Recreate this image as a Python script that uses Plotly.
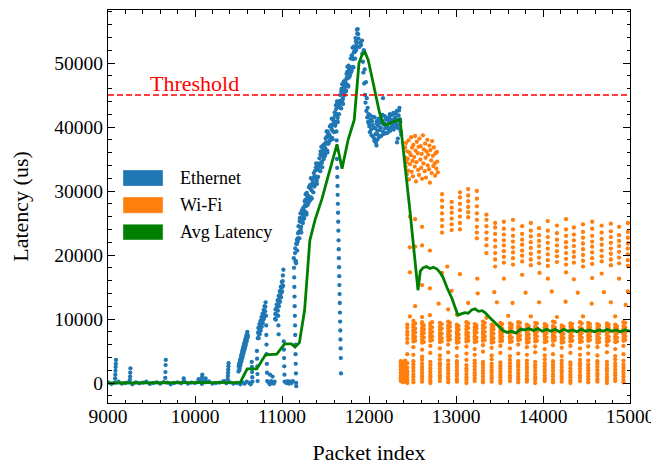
import plotly.graph_objects as go

# ---------------- data ----------------
threshold = 45000
x_range = [9000, 15000]
y_range = [-3125, 58285]

# Ethernet: baseline packets (9000-10500)
eth_base_x = [9000, 9040, 9080, 9120, 9160, 9200, 9240, 9280, 9320, 9360, 9400, 9440, 9480, 9520, 9560, 9600, 9640, 9680, 9720,
              9760, 9800, 9840, 9880, 9920, 9960, 10000, 10040, 10080, 10120, 10160, 10200, 10240, 10280, 10320, 10360, 10400, 10440, 10480]
eth_base_y = [100, -150, 50, 200, -100, 0, 150, -200, 100, -50, 50, 200, -150, 0, 100, -100, 150, 50, -200,
              0, 100, -50, 200, -100, 50, 0, 150, -150, 100, 250, -100, 0, 50, 200, -50, 100, -100, 0]

# Ethernet: short spikes
eth_spike_x = [9082, 9084, 9086, 9088, 9090, 9092, 9252, 9254, 9256, 9258, 9658, 9660, 9662, 9664, 9868, 9870,
               10040, 10042, 10080, 10082, 10084, 10120, 10122, 10335, 10376, 10378, 10380, 10382, 10384, 10386]
eth_spike_y = [700, 1300, 1900, 2500, 3000, 3600, 500, 1000, 1600, 2300, 800, 1700, 2800, 3600, 200, 700,
               300, 600, 400, 900, 1300, 200, 700, 300, 600, 1100, 1600, 2100, 2600, 3100]

# Ethernet: saw-tooth growth (10500-11170)
eth_saw_x = [10500, 10506, 10512, 10518, 10524, 10530, 10536, 10542, 10548, 10554, 10560, 10566, 10572, 10578, 10584, 10590, 10596, 10602, 10608,
             10520, 10545, 10570, 10595, 10625, 10640, 10652, 10654, 10656, 10658, 10660,
             10712, 10714, 10716, 10718, 10720,
             10722, 10728, 10734, 10740, 10746, 10752, 10758, 10764, 10770, 10776, 10782, 10788, 10794, 10800, 10806, 10812,
             10816, 10818, 10820, 10822, 10824, 10826, 10828, 10830,
             10845, 10860, 10875, 10890, 10905, 10915, 10862, 10892,
             10920, 10926, 10932, 10938, 10944, 10950, 10956, 10962, 10968, 10974, 10980, 10986, 10992, 10998, 11004, 11010, 11016,
             10955, 10957, 10959, 10961, 11020, 11022, 11024, 11026, 11028, 11030,
             11050, 11065, 11080, 11095, 11110, 11125,
             11136, 11138, 11140, 11142, 11144, 11146, 11148, 11150, 11152, 11154, 11156, 11158, 11160, 11162, 11164]
eth_saw_y = [1800, 3000, 2300, 3600, 3000, 4300, 3700, 5000, 4300, 5600, 4900, 6200, 5500, 6800, 6100, 7400, 6800, 8000, 7400,
             -200, 100, -100, 200, 0, -200, 3300, 2500, 1700, 900, 200,
             5000, 3800, 2600, 1400, 300,
             7000, 8600, 7600, 9200, 8100, 9700, 8700, 10300, 9300, 10800, 9900, 11400, 10500, 12000, 11200, 12600,
             10500, 9000, 7500, 6000, 4500, 3000, 1600, 300,
             100, -200, 300, 0, -100, 200, 1300, 1000,
             10000, 11500, 10700, 12200, 11400, 12900, 12000, 13600, 12700, 14300, 13400, 15000, 14100, 15800, 15000, 16800, 17700,
             12000, 10500, 9000, 7600, 6500, 5200, 3900, 2600, 1300, 200,
             0, 300, -100, 200, 0, 300,
             19500, 18000, 16500, 15000, 13500, 12000, 10500, 9000, 7500, 6000, 4500, 3000, 1500, 0, -500]
eth_saw2_x = [10503, 10509, 10515, 10521, 10527, 10533, 10539, 10545, 10551, 10557, 10563, 10569, 10575, 10581, 10587, 10593, 10599, 10605,
              10725, 10731, 10737, 10743, 10749, 10755, 10761, 10767, 10773, 10779, 10785, 10791, 10797, 10803, 10809,
              10923, 10929, 10935, 10941, 10947, 10953, 10959, 10965, 10971, 10977, 10983, 10989, 10995, 11001, 11007, 11013]
eth_saw2_y = [2600, 2000, 3300, 2700, 3900, 3400, 4600, 4000, 5300, 4600, 5900, 5200, 6500, 5800, 7100, 6500, 7700, 7100,
              7900, 7000, 8500, 7600, 9000, 8200, 9600, 8800, 10100, 9400, 10700, 10000, 11300, 10600, 11900,
              10800, 9900, 11600, 10600, 12300, 11300, 13000, 12000, 13700, 12700, 14400, 13400, 15100, 14300, 15900, 15200]

# Ethernet: main ramp (11150-11870)
eth_ramp_x = [11150, 11160, 11170, 11180, 11190, 11200, 11210, 11220, 11230, 11240, 11250, 11260, 11270, 11280, 11290, 11300,
              11310, 11320, 11330, 11340, 11350, 11360, 11370, 11380, 11390, 11400, 11410, 11420, 11430, 11440, 11450, 11460,
              11470, 11480, 11490, 11500, 11510, 11520, 11530, 11540, 11550, 11560, 11570, 11580, 11590, 11600, 11610, 11620,
              11630, 11640, 11650, 11660, 11670, 11680, 11690, 11700, 11710, 11720, 11730, 11740, 11750, 11760, 11770, 11780,
              11790, 11800, 11810, 11820, 11830, 11840, 11850, 11860, 11870]
eth_ramp_y = [20300, 19050, 21700, 22100, 24500, 22600, 25200, 24400, 27000, 25000,
              26900, 26800, 28600, 26600, 29100, 28100, 30600, 28500, 30300, 30100,
              31900, 29800, 32200, 31200, 33700, 31700, 33500, 33300, 35100, 33100,
              35600, 34600, 37100, 35000, 36800, 36600, 38400, 36300, 38700, 37700,
              40100, 38000, 39700, 39400, 41300, 39200, 41800, 40800, 43400, 41400,
              43200, 43100, 45000, 42900, 45500, 44500, 47100, 45000, 46900, 46700,
              48600, 46500, 49100, 48100, 50700, 48800, 50700, 50600, 52600, 50700,
              53400, 53100, 55300]
eth_ramp2_x = [11155, 11165, 11175, 11185, 11195, 11205, 11215, 11225, 11235, 11245, 11255, 11265, 11275, 11285, 11295, 11305,
               11315, 11325, 11335, 11345, 11355, 11365, 11375, 11385, 11395, 11405, 11415, 11425, 11435, 11445, 11455, 11465,
               11475, 11485, 11495, 11505, 11515, 11525, 11535, 11545, 11555, 11565, 11575, 11585, 11595, 11605, 11615, 11625,
               11635, 11645, 11655, 11665, 11675, 11685, 11695, 11705, 11715, 11725, 11735, 11745, 11755, 11765, 11775, 11785,
               11795, 11805, 11815, 11825, 11835, 11845, 11855, 11865]
eth_ramp2_y = [19000, 21800, 20700, 23400, 23600, 25800, 24000, 25600, 25400, 27400, 25700, 27800, 27600, 29700, 27800, 29200,
               28900, 30800, 29000, 31100, 30900, 32800, 30900, 32300, 32000, 34000, 32200, 34300, 34100, 36200, 34300, 35700,
               35400, 37300, 35500, 37600, 37400, 39300, 37400, 38800, 38400, 40200, 38300, 40400, 40300, 42300, 40500, 41900,
               41700, 43700, 42000, 44100, 44000, 46000, 44200, 45600, 45400, 47300, 45600, 47700, 47600, 49600, 47800, 49300,
               49100, 51100, 49400, 51700, 51700, 53900, 52500, 54600]
eth_ramp3_x = [11152, 11162, 11172, 11182, 11192, 11202, 11212, 11222, 11232, 11242, 11252, 11262, 11272, 11282, 11292, 11302,
               11312, 11322, 11332, 11342, 11352, 11362, 11372, 11382, 11392, 11402, 11412, 11422, 11432, 11442, 11452, 11462,
               11472, 11482, 11492, 11502, 11512, 11522, 11532, 11542, 11552, 11562, 11572, 11582, 11592, 11602, 11612, 11622,
               11632, 11642, 11652, 11662, 11672, 11682, 11692, 11702, 11712, 11722, 11732, 11742, 11752, 11762, 11772, 11782,
               11792, 11802, 11812, 11822, 11832, 11842, 11852, 11862]
eth_ramp3_y = [21050, 18700, 22400, 22600, 22600, 25300, 26500, 23500, 26500, 26200, 25800, 28400, 29500, 26300, 29300, 28900,
               28400, 30900, 32000, 28800, 31700, 31200, 30700, 33200, 34300, 31100, 34100, 33700, 33200, 35700, 36900, 33700,
               36600, 36200, 35700, 38200, 39300, 36000, 38900, 38500, 37900, 40300, 41300, 38100, 41000, 40700, 40200, 42800,
               44000, 40800, 43800, 43500, 43000, 45600, 46700, 43600, 46500, 46200, 45700, 48300, 49400, 46300, 49200, 48900,
               48500, 51200, 52400, 49300, 52400, 52200, 52000, 55200]

# Ethernet: peak and fall back
eth_peak_x = [11875, 11880, 11890, 11900, 11910, 11920, 11925, 11930, 11935, 11940, 11945, 11950, 11955, 11960, 11965,
              11970, 11975, 11980, 11985, 11990, 11995]
eth_peak_y = [54500, 53800, 52500, 53200, 52800, 53500, 51500, 50200, 48500, 52000, 46800, 49000, 45000, 43800, 47000,
              42500, 44500, 41500, 43000, 40800, 42000]

# Ethernet: isolated drop column (~11650)
eth_drop_x = [11620, 11622, 11624, 11626, 11628, 11630, 11632, 11634, 11636, 11638, 11640, 11642, 11644, 11646, 11648,
              11650, 11652, 11654, 11656, 11658, 11660, 11662, 11664, 11666, 11668, 11670, 11672, 11674, 11676, 11678]
eth_drop_y = [43400, 42100, 40700, 39300, 37900, 36500, 35000, 33600, 32200, 30800, 29400, 28000, 26600, 25200, 23800,
              22300, 20900, 19500, 18100, 16700, 15300, 13900, 12500, 11000, 9600, 8200, 6800, 5400, 3900, 1500]

# Ethernet: plateau (12000-12370)
eth_plat_x = [12000, 12010, 12020, 12030, 12040, 12050, 12060, 12070, 12080, 12090, 12100, 12110, 12120, 12130, 12140, 12150,
              12160, 12170, 12180, 12190, 12200, 12210, 12220, 12230, 12240, 12250, 12260, 12270, 12280, 12290, 12300, 12310,
              12320, 12330, 12340, 12350, 12360, 12370,
              12005, 12015, 12025, 12035, 12045, 12055, 12065, 12075, 12085, 12095, 12105, 12115, 12125, 12135, 12145, 12155,
              12165, 12175, 12185, 12195, 12205, 12215, 12225, 12235, 12245, 12255, 12265, 12275, 12285, 12295, 12305, 12315,
              12325, 12335, 12345, 12355, 12365,
              12086, 12096, 12062, 12161, 12322, 12332]
eth_plat_y = [40500, 39200, 41200, 38700, 40300, 41600, 38200, 39800, 37500, 40900, 38800, 41300, 39500, 40700, 38600, 41000,
              39300, 40400, 41700, 39000, 40200, 41400, 39700, 40900, 42000, 39900, 41100, 40300, 42200, 40000, 41500, 40600,
              42500, 40300, 41800, 43000, 40800, 38800,
              40100, 41800, 39600, 40900, 38500, 39900, 41500, 38900, 40500, 39400, 40200, 38400, 41000, 39900, 40700, 41900,
              38900, 40600, 39800, 41200, 40100, 39100, 40800, 41600, 39400, 40500, 41900, 40900, 39600, 41300, 42100, 40200,
              41100, 39800, 42600, 41200, 39300,
              37100, 38000, 37800, 44500, 37600, 38200]

# Wi-Fi: packet bursts (one column per burst)
wifi_col_x = [12365, 12390, 12415, 12440, 12510, 12610, 12705, 12815, 12910, 13010, 13120, 13215, 13310, 13410, 13510,
              13620, 13715, 13815, 13910, 14020, 14115, 14215, 14315, 14425, 14520, 14625, 14735, 14830, 14925]
wifi_low_y = [
    [300, 700, 1100, 1600, 2100, 2600, 3000, 3400],
    [100, 500, 900, 1400, 1900, 2300, 2800, 3300],
    [200, 600, 1000, 1500, 2000, 2500, 2900, 3500],
    [0, 400, 800, 1300, 1800, 2400, 3100],
    [100, 500, 1000, 1400, 1900, 2400, 2900, 3400],
    [200, 700, 1100, 1600, 2100, 2500, 3000, 3600],
    [0, 400, 900, 1300, 1800, 2300, 2800, 3300],
    [300, 800, 1200, 1700, 2200, 2700, 3100, 3700],
    [100, 600, 1000, 1500, 2000, 2400, 2900, 3500],
    [200, 600, 1100, 1500, 2000, 2500, 3000, 3400],
    [0, 500, 900, 1400, 1900, 2300, 2800, 3600],
    [300, 700, 1200, 1600, 2100, 2600, 3100, 3500],
    [100, 500, 1000, 1500, 1900, 2400, 2900, 3300],
    [200, 700, 1100, 1600, 2000, 2500, 3000, 3700],
    [0, 400, 900, 1300, 1800, 2300, 2700, 3200],
    [300, 800, 1200, 1700, 2200, 2600, 3100, 3600],
    [100, 600, 1000, 1500, 2000, 2500, 2900, 3400],
    [200, 600, 1100, 1600, 2100, 2500, 3000, 3500],
    [0, 500, 900, 1400, 1900, 2400, 2800, 3300],
    [300, 700, 1200, 1700, 2100, 2600, 3100, 3700],
    [100, 500, 1000, 1400, 1900, 2400, 2900, 3400],
    [200, 700, 1100, 1600, 2000, 2500, 3000, 3500],
    [0, 400, 900, 1300, 1800, 2300, 2800, 3200],
    [300, 800, 1200, 1700, 2200, 2700, 3100, 3600],
    [100, 600, 1000, 1500, 2000, 2400, 2900, 3500],
    [200, 600, 1100, 1500, 2000, 2500, 3000, 3400],
    [0, 500, 900, 1400, 1900, 2300, 2800, 3300],
    [300, 700, 1200, 1600, 2100, 2600, 3100, 3700],
    [100, 500, 1000, 1500, 1900, 2400, 2900, 3500],
]
wifi_mid_y = [
    [], [], [],
    [4500, 6300, 6900, 7500, 8000, 8600, 9100],
    [4400, 5600, 6500, 7000, 7400, 7800, 8200, 8700, 9100, 9700],
    [4100, 5200, 6300, 6800, 7300, 7700, 8100, 8600, 9200, 9500],
    [4700, 5800, 6600, 7100, 7500, 7900, 8400, 8900, 9300],
    [4300, 5400, 6400, 6900, 7400, 7800, 8300, 8800, 9400],
    [4800, 6000, 6700, 7200, 7600, 8000, 8500, 9000, 9600],
    [4200, 5500, 6300, 6800, 7200, 7700, 8100, 8600, 9100],
    [4600, 5700, 6500, 7000, 7500, 7900, 8400, 8900, 9500],
    [4400, 5300, 6400, 6900, 7300, 7800, 8200, 8700, 9200],
    [4900, 5900, 6600, 7100, 7600, 8000, 8500, 9000, 9600],
    [4300, 5500, 6300, 6800, 7300, 7700, 8200, 8600, 9100],
    [4700, 5800, 6500, 7000, 7400, 7900, 8300, 8800, 9400],
    [4200, 5400, 6400, 6900, 7300, 7800, 8200, 8700, 9300],
    [4600, 6000, 6700, 7100, 7600, 8000, 8500, 8900, 9500],
    [4400, 5600, 6300, 6800, 7200, 7700, 8100, 8600, 9100],
    [4800, 5700, 6500, 7000, 7500, 7900, 8400, 8800, 9400],
    [4300, 5300, 6400, 6900, 7400, 7800, 8300, 8700, 9200],
    [4500, 5900, 6600, 7100, 7500, 8000, 8400, 8900, 9600],
    [4200, 5500, 6300, 6800, 7300, 7700, 8200, 8600, 9000],
    [4700, 5800, 6500, 7000, 7400, 7900, 8300, 8800, 9300],
    [4400, 5400, 6400, 6900, 7400, 7800, 8200, 8700, 9500],
    [4600, 5700, 6600, 7100, 7500, 8000, 8500, 8900, 9400],
    [4300, 5600, 6300, 6800, 7200, 7700, 8100, 8600, 9200],
    [4800, 5900, 6500, 7000, 7500, 7900, 8400, 8800, 9300],
    [4200, 5300, 6400, 6900, 7300, 7800, 8300, 8700, 9100],
    [4500, 5800, 6600, 7100, 7600, 8000, 8400, 8900, 9500],
]
# Wi-Fi: second packets of each burst in the 6-9.5 ms band
wifi_mid2_x = [12530, 12630, 12725, 12835, 12930, 13030, 13140, 13235, 13330, 13430, 13530, 13640, 13735, 13835, 13930,
               14040, 14135, 14235, 14335, 14445, 14540, 14645, 14755, 14850, 14945]
wifi_mid2_y = [
    [6600, 7200, 7900, 8500, 9300], [6400, 7100, 7800, 8400, 9000], [6700, 7300, 8000, 8700, 9500],
    [6500, 7000, 7700, 8500, 9200], [6800, 7400, 8100, 8800, 9400], [6400, 7000, 7600, 8300, 8900],
    [6600, 7200, 7800, 8600, 9300], [6500, 7100, 7900, 8500, 9000], [6700, 7300, 8000, 8700, 9400],
    [6400, 7000, 7700, 8400, 8900], [6600, 7200, 7800, 8500, 9200], [6500, 7100, 7900, 8600, 9100],
    [6800, 7400, 8100, 8700, 9400], [6400, 7000, 7600, 8300, 8900], [6600, 7300, 8000, 8600, 9300],
    [6500, 7100, 7800, 8500, 9000], [6700, 7200, 7900, 8700, 9500], [6400, 7000, 7700, 8400, 8800],
    [6600, 7300, 8000, 8600, 9200], [6500, 7100, 7800, 8500, 9300], [6700, 7300, 7900, 8700, 9200],
    [6400, 7000, 7700, 8400, 9000], [6600, 7200, 8000, 8600, 9100], [6500, 7100, 7800, 8500, 8900],
    [6700, 7300, 7900, 8700, 9400],
]
wifi_up_x = [12840, 12950, 13045, 13140, 13240, 13350, 13450, 13550, 13655, 13760, 13860, 13955, 14055, 14160, 14265,
             14355, 14460, 14565, 14675, 14780, 14875, 14975]
wifi_up_y = [
    [23500, 24500, 25500, 26500, 27500, 28500, 29500],
    [23900, 24800, 25700, 26600, 27400, 28300],
    [24000, 25000, 26000, 27000, 28000, 29000, 29800],
    [25900, 26700, 27500, 28400, 29300, 30300],
    [22600, 23500, 24400, 25500, 26500, 27600, 28800, 30000],
    [20300, 21500, 22500, 23500, 24500, 25500, 26300],
    [18200, 19300, 20300, 21300, 22300, 23300, 24300, 25000],
    [18800, 19700, 20600, 21500, 22300, 23200, 24100, 25200],
    [18500, 19500, 20400, 21200, 22100, 23000, 24000, 25500],
    [19000, 19900, 20700, 21600, 22400, 23300, 24500],
    [18400, 19300, 20200, 21100, 22000, 22900, 23800, 25000],
    [18700, 19600, 20500, 21400, 22200, 23100, 24200],
    [18300, 19200, 20100, 21000, 21900, 22800, 23800, 25300],
    [18900, 19800, 20600, 21500, 22400, 23400, 24600],
    [18500, 19400, 20300, 21200, 22000, 23000, 24000, 25600],
    [18800, 19700, 20500, 21400, 22300, 23200, 24300],
    [18200, 19100, 20000, 20900, 21800, 22700, 23600, 24800],
    [18600, 19500, 20400, 21300, 22100, 23000, 24100, 25200],
    [19000, 19800, 20700, 21600, 22500, 23500, 24600],
    [18400, 19300, 20200, 21000, 21900, 22800, 23700, 24900],
    [18700, 19600, 20500, 21400, 22200, 23100, 24400],
    [18300, 19200, 20100, 21000, 21800, 22700, 23600, 25000],
]
# Wi-Fi: early high-latency cluster (12400-12800)
wifi_blob_x = [12415, 12418, 12420, 12425, 12430, 12435, 12440, 12445, 12450, 12455, 12460, 12465, 12470, 12480, 12485,
               12490, 12495, 12500, 12505, 12510, 12520, 12525, 12530, 12535, 12540, 12545, 12550, 12560, 12565, 12570,
               12575, 12580, 12590, 12595, 12600, 12605, 12610, 12620, 12625, 12630, 12640, 12645, 12650, 12655, 12660,
               12670, 12675, 12680, 12690, 12695, 12700, 12705, 12715, 12720, 12725, 12735, 12740, 12745, 12755, 12760,
               12765, 12775, 12780, 12785, 12790]
wifi_blob_y = [36800, 35200, 33800, 37500, 34500, 32600, 36200, 35000, 33200, 37900, 31800, 36000, 34200, 35600, 38400,
               33000, 36800, 34700, 32300, 37200, 35300, 33800, 38600, 36300, 31500, 34500, 37700, 35900, 33300, 36900,
               32500, 38200, 34900, 37000, 33600, 35800, 31900, 38700, 34300, 36500, 33100, 37400, 35200, 32100, 36200,
               38000, 34000, 35700, 33400, 37100, 31300, 36400, 34800, 32800, 37800, 35500, 33900, 36800, 34300, 32400,
               35900, 33500, 36100, 34600, 32900]
# Wi-Fi: scattered packets
wifi_sparse_x = [12470, 12530, 12610, 12470, 12530, 12610, 12700, 12470, 12610, 12700, 12530, 12470, 12610, 12700,
                 12800, 12840, 12900, 12950, 13045, 13140, 13245, 13350, 13440, 13470, 13550, 13600, 13650, 13760,
                 13800, 13860, 13955, 13960, 14055, 14100, 14160, 14260, 14265, 14355, 14400, 14460, 14560, 14565,
                 14675, 14700, 14780, 14830, 14875, 14975, 14950, 13010, 12910, 13250]
wifi_sparse_y = [26000, 25600, 24400, 21200, 21300, 21500, 20700, 17300, 15300, 14800, 12000, 10400, 10300, 10600,
                 12400, 17200, 18200, 14400, 17000, 12500, 16300, 10200, 14200, 12600, 16300, 10500, 12500, 16900,
                 14100, 10400, 12600, 17200, 16300, 14300, 10300, 12700, 17300, 16200, 14100, 10400, 12400, 16400,
                 17100, 14200, 12600, 10400, 16300, 14300, 12200, 10700, 11500, 14000]

# Average latency
avg_x = [9000, 10500, 10520, 10600, 10710, 10810, 10940, 11030, 11110, 11150, 11200, 11260, 11320, 11380, 11460, 11540,
         11632, 11660, 11690, 11760, 11830, 11885, 11920, 11954, 11990, 12030, 12069, 12120, 12161, 12200, 12260, 12356,
         12470, 12563, 12590, 12620, 12660, 12700, 12740, 12782, 12820, 12851, 12900, 12954, 12990, 13023, 13060, 13100,
         13140, 13180, 13218, 13260, 13300, 13333, 13390, 13448, 13500, 13540, 13590, 13640, 13690, 13740, 13790, 13840,
         13890, 13940, 13990, 14040, 14090, 14140, 14190, 14240, 14290, 14340, 14390, 14440, 14490, 14540, 14590, 14640,
         14690, 14740, 14790, 14840, 14890, 14940, 15000]
avg_y = [0, 0, 100, 2200, 2200, 4400, 4500, 6100, 6100, 5600, 6300, 11400, 22300, 25500, 28800, 32800,
         37300, 35500, 33500, 38000, 41100, 50000, 51300, 51700, 50500, 48000, 45300, 42300, 40600, 40300, 40700, 41200,
         27000, 14500, 17500, 18000, 18200, 17900, 18100, 17800, 17200, 16500, 14800, 13200, 11800, 10600, 10800, 11000,
         10900, 11400, 11600, 11200, 11300, 11000, 10200, 9400, 8700, 8200, 7900, 8100, 7800, 8400, 8300, 8500,
         8200, 8500, 8100, 8400, 8100, 8400, 8000, 8400, 8100, 8300, 8000, 8400, 8100, 8300, 8000, 8300,
         8100, 8400, 8100, 8300, 8000, 8300, 8100]

legend_labels = ["Ethernet", "Wi-Fi", "Avg Latency"]
colors = ["#1f77b4", "#ff7f0e", "#008000"]

# ---------------- assemble ----------------
eth_x = (eth_base_x + eth_spike_x + eth_saw_x + eth_saw2_x + eth_ramp_x + eth_ramp2_x + eth_ramp3_x
         + eth_peak_x + eth_drop_x + eth_plat_x)
eth_y = (eth_base_y + eth_spike_y + eth_saw_y + eth_saw2_y + eth_ramp_y + eth_ramp2_y + eth_ramp3_y
         + eth_peak_y + eth_drop_y + eth_plat_y)

wifi_x, wifi_y = [], []
for cx, lows, mids in zip(wifi_col_x, wifi_low_y, wifi_mid_y):
    for v in lows + mids:
        wifi_x.append(cx)
        wifi_y.append(v)
for group_x, group_y in ((wifi_mid2_x, wifi_mid2_y), (wifi_up_x, wifi_up_y)):
    for cx, ys in zip(group_x, group_y):
        for v in ys:
            wifi_x.append(cx)
            wifi_y.append(v)
wifi_x += wifi_blob_x + wifi_sparse_x
wifi_y += wifi_blob_y + wifi_sparse_y

FONT = "Liberation Serif"
fig = go.Figure()
fig.add_trace(go.Scatter(x=eth_x, y=eth_y, mode="markers", name=legend_labels[0],
                         marker=dict(color=colors[0], size=4.3, line=dict(width=0))))
fig.add_trace(go.Scatter(x=wifi_x, y=wifi_y, mode="markers", name=legend_labels[1],
                         marker=dict(color=colors[1], size=4.3, line=dict(width=0))))
fig.add_trace(go.Scatter(x=avg_x, y=avg_y, mode="lines", name=legend_labels[2],
                         line=dict(color=colors[2], width=2.8)))

# threshold line
fig.add_shape(type="line", xref="x domain", yref="y", x0=0, x1=1, y0=threshold, y1=threshold,
              line=dict(color="red", width=1.3, dash="6px,3px"), layer="above")
fig.add_annotation(x=9460, y=threshold, xref="x", yref="y", text="Threshold", showarrow=False,
                   xanchor="left", yanchor="bottom", yshift=-3,
                   font=dict(family=FONT, size=22, color="red"))

# legend drawn as patches + labels
patch_y = [(0.593, 0.552), (0.524, 0.483), (0.455, 0.415)]
for lab, col, (ya, yb) in zip(legend_labels, colors, patch_y):
    fig.add_shape(type="rect", xref="paper", yref="paper", x0=0.0287, x1=0.1054, y0=yb, y1=ya,
                  fillcolor=col, line=dict(width=0.6, color="rgba(255,255,255,0.6)"))
    fig.add_annotation(x=0.134, y=(ya + yb) / 2, xref="paper", yref="paper", text=lab, showarrow=False,
                       xanchor="left", yanchor="middle", font=dict(family=FONT, size=18, color="black"))

axis_common = dict(ticks="inside", ticklen=7, tickwidth=1, tickcolor="black", showline=True, linecolor="black",
                   linewidth=1, mirror="allticks", showgrid=False, zeroline=False, tickformat="d",
                   tickfont=dict(family=FONT, size=19.5, color="black"))
fig.update_xaxes(range=x_range, tick0=9000, dtick=1000, ticklabelstandoff=-4,
                 minor=dict(ticks="inside", ticklen=3.5, tickcolor="black", dtick=200, tick0=9000, showgrid=False),
                 title=dict(text="Packet index", font=dict(family=FONT, size=22, color="black"), standoff=18),
                 **axis_common)
fig.update_yaxes(range=y_range, tick0=0, dtick=10000,
                 minor=dict(ticks="inside", ticklen=3.5, tickcolor="black", dtick=2000, tick0=0, showgrid=False),
                 title=dict(text="Latency (us)", font=dict(family=FONT, size=22, color="black"), standoff=24),
                 **axis_common)
# the page adds an 8 px body margin, so the figure is 8 px smaller on each side
fig.update_layout(width=651, height=458, margin=dict(l=100, r=29, t=2, b=63, autoexpand=False),
                  plot_bgcolor="white", paper_bgcolor="white", showlegend=False,
                  font=dict(family=FONT, color="black"))
fig.write_html("out.html")
